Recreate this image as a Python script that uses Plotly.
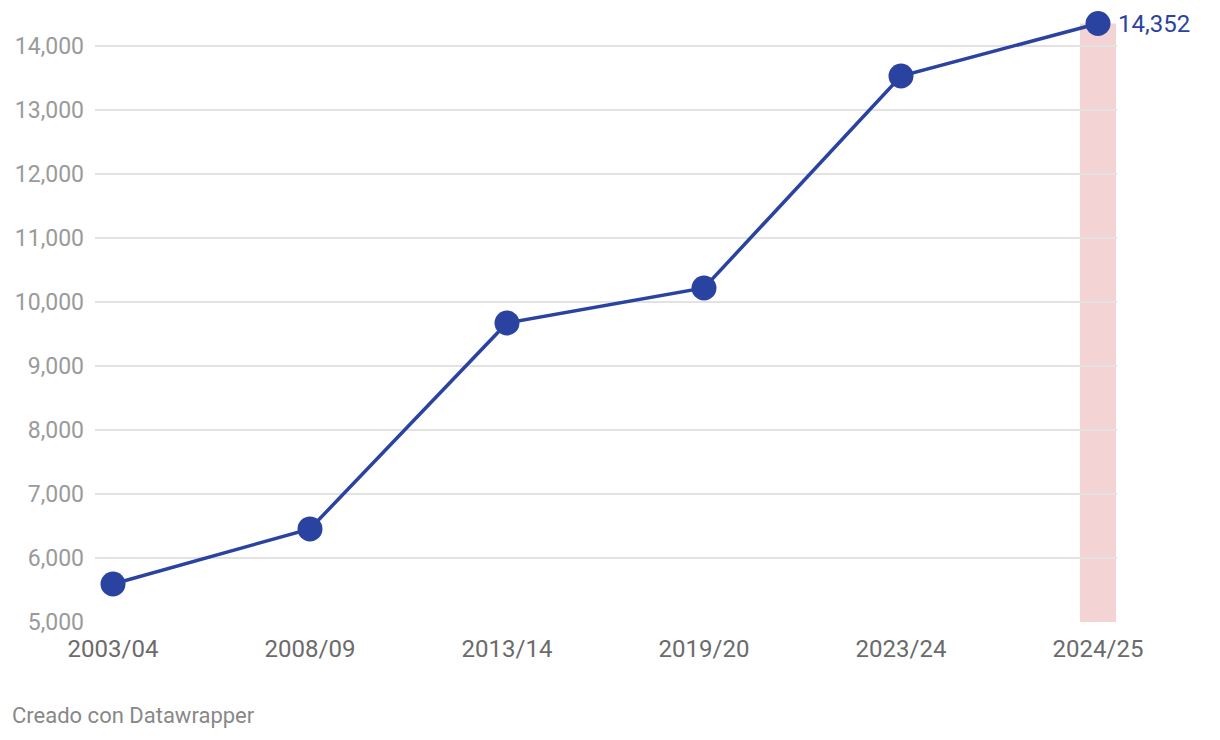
import plotly.graph_objects as go

categories = ["2003/04", "2008/09", "2013/14", "2019/20", "2023/24", "2024/25"]
values = [5594, 6455, 9672, 10219, 13531, 14352]
y_ticks = [5000, 6000, 7000, 8000, 9000, 10000, 11000, 12000, 13000, 14000]

LINE = "#2b43a0"
x_idx = list(range(len(categories)))
half_band = 18 / 197

# page has an 8px body margin: work in figure coordinates
OFF = 8
W, H = 1220 - 2 * OFF, 740 - 2 * OFF
plot_left, plot_right = 95 - OFF, 1117 - OFF
plot_top, plot_bottom = 10 - OFF, 622.5 - OFF
grid_top_px = 46 - OFF
px_per_unit = 0.064

fig = go.Figure()
fig.add_trace(go.Scatter(
    x=x_idx, y=values, mode="lines+markers",
    line=dict(color=LINE, width=3.5),
    marker=dict(size=25, color=LINE),
    cliponaxis=False, hoverinfo="skip", showlegend=False,
))

fig.add_shape(type="rect", xref="x", yref="y",
              x0=x_idx[-1] - half_band, x1=x_idx[-1] + half_band,
              y0=y_ticks[0], y1=values[-1],
              fillcolor="#f3d3d3", line=dict(width=0), layer="below")

fig.add_annotation(x=x_idx[-1], y=values[-1], text=f"{values[-1]:,}",
                   showarrow=False, xanchor="left", yanchor="middle",
                   xshift=18, yshift=-1,
                   font=dict(family="Roboto", size=24, color=LINE))

pw = plot_right - plot_left
ph = plot_bottom - plot_top
fig.add_annotation(xref="paper", yref="paper",
                   x=-(plot_left - (10 - OFF)) / pw,
                   y=-((716 - OFF) - plot_bottom) / ph,
                   xanchor="left", yanchor="middle",
                   text="Creado con Datawrapper", showarrow=False,
                   font=dict(family="Roboto", size=22, color="#888888"))

y_max = y_ticks[-1] + (grid_top_px - plot_top) / px_per_unit

fig.update_layout(
    width=W, height=H,
    margin=dict(l=plot_left, r=W - plot_right, t=plot_top, b=H - plot_bottom),
    plot_bgcolor="white", paper_bgcolor="white",
    font=dict(family="Roboto"),
    xaxis=dict(
        range=[-18 / 197, x_idx[-1] + 19 / 197],
        tickmode="array", tickvals=x_idx, ticktext=categories,
        showgrid=False, zeroline=False, showline=False,
        tickfont=dict(family="Roboto", size=24, color="#6b6b6b"),
        ticks="", ticklabelstandoff=10,
    ),
    yaxis=dict(
        range=[y_ticks[0], y_max],
        tickmode="array", tickvals=y_ticks,
        ticktext=[f"{v:,}" for v in y_ticks],
        showgrid=True, gridcolor="#e2e2e2", gridwidth=1.5,
        zeroline=False, showline=False,
        tickfont=dict(family="Roboto", size=23, color="#9a9a9a"),
        ticks="", ticklabelstandoff=10,
    ),
)

fig.write_html("out.html")
